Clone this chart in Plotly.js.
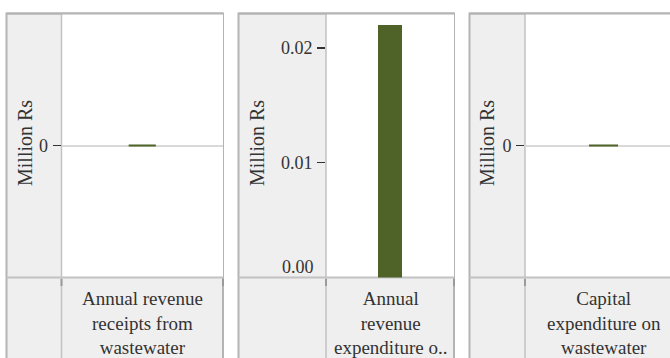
<!DOCTYPE html>
<html>
<head>
<meta charset="utf-8">
<script src="https://cdn.plot.ly/plotly-3.0.1.min.js"></script>
<style>html,body{margin:0;padding:0;background:#fff;}#chart{width:670px;height:358px;}</style>
</head>
<body>
<div id="chart"></div>
<script>
// ---- data ----
const categories = ['Annual revenue receipts from wastewater', 'Annual revenue expenditure o..', 'Capital expenditure on wastewater'];
const categoryLabels = ['Annual revenue<br>receipts from<br>wastewater', 'Annual<br>revenue<br>expenditure o..', 'Capital<br>expenditure on<br>wastewater'];
const values = [0, 0.022, 0];
const yTitle = 'Million Rs';
const tickValues = [[0], [0.01, 0.02], [0]];
const tickLabels = [['0'], ['0.01', '0.02'], ['0']];
const baseTickValue = 0;
const baseTickLabel = '0.00';

// ---- geometry (pixels) ----
const W = 670, H = 358;
const px = x => x / W;
const py = y => (H - y) / H;
const TOP = 13.5, HDIV = 277.5, BOT = 362;
const panels = [
  {left: 6.5, div: 61.5, right: 223, yr: [-1, 1], xr: [-0.5, 0.5], bw: 0.168, lw: 2},
  {left: 238.5, div: 326, right: 454, yr: [0, 0.023], xr: [-0.5, 0.5], bw: 0.19, lw: 0},
  {left: 469.5, div: 525, right: 700, yr: [-1, 1], xr: [-0.5, 0.4236], bw: 0.185, lw: 2}
];
const FONT = 'Liberation Serif, Times New Roman, serif';
const TXT = '#333333';
const BAR = '#4f6228';
const OUTER = '#b4b4b4';
const INNER = '#c2c2c2';
const BG = '#efefef';

const traces = [];
const layout = {
  width: W, height: H,
  margin: {l: 0, r: 0, t: 0, b: 0},
  paper_bgcolor: '#ffffff',
  plot_bgcolor: 'rgba(0,0,0,0)',
  showlegend: false,
  bargap: 0,
  font: {family: FONT, size: 18, color: TXT},
  shapes: [],
  annotations: []
};

const line = (x0, y0, x1, y1, color, width) => ({type: 'line', xref: 'paper', yref: 'paper', layer: 'below',
  x0: px(x0), x1: px(x1), y0: py(y0), y1: py(y1), line: {color: color, width: width}});

panels.forEach((p, i) => {
  const n = i === 0 ? '' : String(i + 1);
  traces.push({
    type: 'bar',
    x: [categories[i]],
    y: [values[i]],
    width: [p.bw],
    xaxis: 'x' + n,
    yaxis: 'y' + n,
    marker: {color: BAR, line: {color: BAR, width: p.lw}},
    hoverinfo: 'y'
  });
  const plotRight = Math.min(p.right, W);
  layout['xaxis' + n] = {
    domain: [px(p.div), px(plotRight)],
    anchor: 'y' + n,
    type: 'category',
    range: p.xr,
    showticklabels: false,
    showgrid: false,
    zeroline: false,
    showline: false,
    ticks: '',
    fixedrange: true
  };
  layout['yaxis' + n] = {
    domain: [py(HDIV), py(TOP)],
    anchor: 'x' + n,
    range: p.yr,
    tickmode: 'array',
    tickvals: tickValues[i],
    ticktext: tickLabels[i],
    ticks: 'outside',
    ticklen: 8,
    tickwidth: 1.5,
    tickcolor: '#333333',
    ticklabelstandoff: 1,
    tickfont: {family: FONT, size: 18, color: TXT},
    showgrid: false,
    zeroline: i !== 1,
    zerolinecolor: '#d9d9d9',
    zerolinewidth: 2,
    showline: false,
    fixedrange: true
  };
  // panel frame
  layout.shapes.push({type: 'rect', xref: 'paper', yref: 'paper', layer: 'below',
    x0: px(p.left), x1: px(p.right), y0: py(BOT), y1: py(TOP),
    fillcolor: BG, line: {color: OUTER, width: 2}});
  layout.shapes.push({type: 'rect', xref: 'paper', yref: 'paper', layer: 'below',
    x0: px(p.div), x1: px(p.right), y0: py(HDIV), y1: py(TOP),
    fillcolor: '#ffffff', line: {width: 0}});
  layout.shapes.push(line(p.div, TOP, p.div, BOT, INNER, 1.5));
  layout.shapes.push(line(p.left, HDIV, p.right, HDIV, INNER, 2));
  layout.shapes.push(line(p.left, TOP, p.right, TOP, OUTER, 2));
  layout.shapes.push(line(p.div, 279, p.div, 286, '#9a9a9a', 2));
  layout.shapes.push(line(p.right, 279, p.right, 286, '#9a9a9a', 2));
  // y axis title
  layout.annotations.push({
    xref: 'paper', yref: 'paper',
    x: px(p.left + (i === 0 ? 18.5 : (i === 1 ? 18.5 : 17.5))), y: py(143),
    xanchor: 'center', yanchor: 'middle',
    text: yTitle, textangle: -90, showarrow: false,
    font: {family: FONT, size: 20, color: TXT}
  });
  // category label
  layout.annotations.push({
    xref: 'x' + n + ' domain', yref: 'paper',
    x: i === 2 ? (603.5 - p.div) / (plotRight - p.div) : 0.5, y: py(323),
    xanchor: 'center', yanchor: 'middle', align: 'center',
    text: categoryLabels[i], showarrow: false,
    font: {family: FONT, size: 19, color: TXT}
  });
});

// base tick label of the middle panel, lifted above the panel divider
layout.annotations.push({
  xref: 'paper', yref: 'y2',
  x: px(316), y: baseTickValue, yshift: 11,
  xanchor: 'right', yanchor: 'middle',
  text: baseTickLabel, showarrow: false,
  font: {family: FONT, size: 18, color: TXT}
});

Plotly.newPlot('chart', traces, layout, {displayModeBar: false, staticPlot: true});
</script>
</body>
</html>
